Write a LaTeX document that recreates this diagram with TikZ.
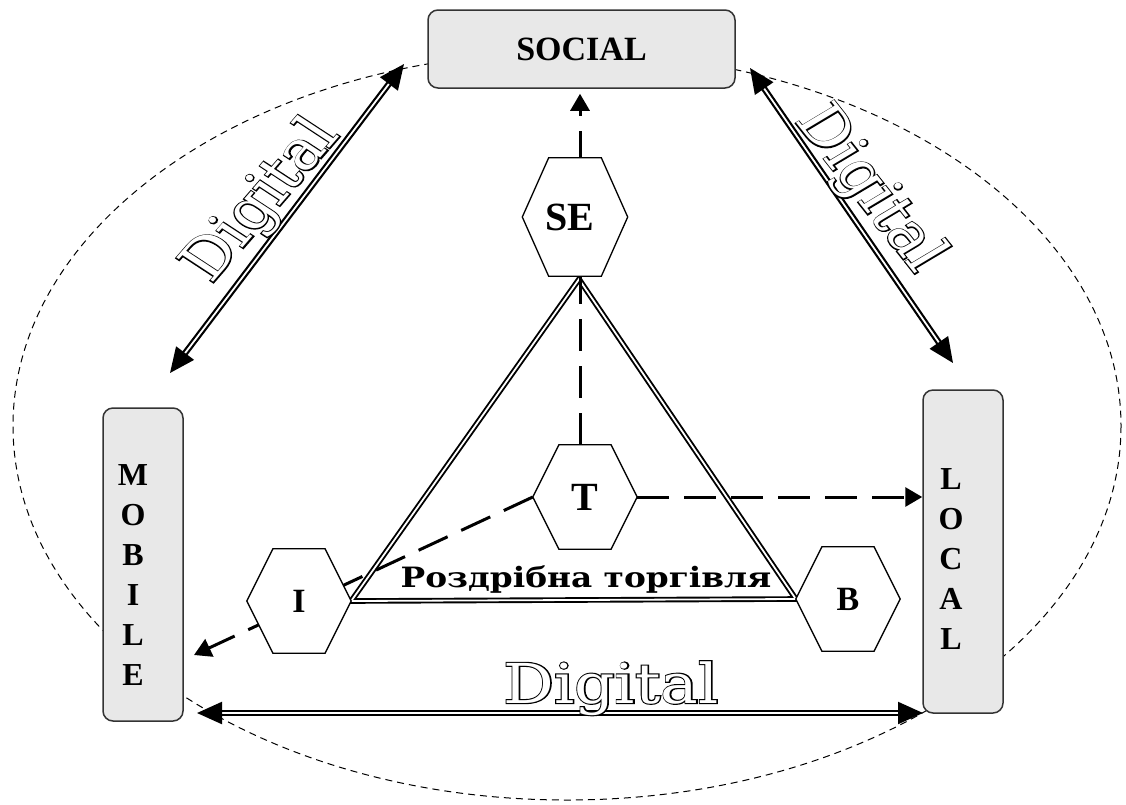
\documentclass[tikz,border=0pt]{standalone}
\usepackage{fontspec}
\setmainfont{Liberation Serif}
\newfontfamily\dejavuserif{DejaVu Serif}
\newfontfamily\digbold[FakeBold=4]{DejaVu Serif}
\usetikzlibrary{arrows.meta,calc}
\pgfdeclarelayer{back}
\pgfdeclarelayer{hex}
\pgfsetlayers{back,hex,main}
\definecolor{boxgray}{HTML}{E8E8E8}
\definecolor{boxedge}{HTML}{333333}
\newcommand\hollow[1]{\rlap{\color{black}\digbold #1}\textcolor{white}{#1}}
\tikzset{
  box/.style={draw=boxedge, line width=1.5pt, fill=boxgray, rounded corners=10pt, inner sep=0pt, font=\fontsize{32}{40}\selectfont\bfseries},
  hexnode/.style={inner sep=0pt, minimum width=104pt, minimum height=104pt, font=\fontsize{34}{40}\selectfont\bfseries},
  bighex/.style={hexnode, font=\fontsize{40}{44}\selectfont\bfseries},
  hexline/.style={draw=black, line width=1.3pt, fill=white, line join=miter},
  thickdash/.style={line width=3pt, dash pattern=on 32pt off 15pt, -{Triangle[length=17pt,width=19pt]}},
  dblarrow/.style={line width=2.2pt, double=white, double distance=1.8pt, {Triangle[length=25pt,width=22pt]}-{Triangle[length=25pt,width=22pt]}},
  digit/.style={font=\dejavuserif\fontsize{55}{60}\selectfont, xscale=1.15, anchor=base, inner sep=0pt},
  ellipseline/.style={line width=1pt, dash pattern=on 7pt off 5pt},
  tri/.style={line width=1.9pt, double=white, double distance=1.8pt, line join=miter},
  retail/.style={font=\dejavuserif\bfseries\fontsize{28}{30}\selectfont, anchor=base, xscale=1.17, inner sep=0pt},
}
\newcommand\hexof[1]{%
  \begin{pgfonlayer}{hex}
    \draw[hexline] (#1.west) -- ($(#1.north west)!0.25!(#1.north east)$) -- ($(#1.north west)!0.75!(#1.north east)$) -- (#1.east) -- ($(#1.south west)!0.75!(#1.south east)$) -- ($(#1.south west)!0.25!(#1.south east)$) -- cycle;
  \end{pgfonlayer}}
\begin{document}
\begin{tikzpicture}[x=1pt,y=-1pt]
\useasboundingbox (0,0) rectangle (1126,804);

% dashed ellipse
\begin{pgfonlayer}{back}
\draw[ellipseline] (567,426) ellipse [x radius=554, y radius=374];
\end{pgfonlayer}

% boxes
\node[box, minimum width=307pt, minimum height=78pt, font=\fontsize{34}{40}\selectfont\bfseries] (SOCIAL) at (581.5,49) {SOCIAL};
\node[box, minimum width=80pt, minimum height=313pt] (MOBILE) at (143,564.5)
  {\raisebox{-19.5pt}[0pt][0pt]{\begin{tabular}{@{}c@{}}M\\O\\B\\I\\L\\E\end{tabular}}\hspace*{20pt}};
\node[box, minimum width=80pt, minimum height=323pt] (LOCAL) at (963,551.5)
  {\raisebox{-16pt}[0pt][0pt]{\begin{tabular}{@{}c@{}}L\\O\\C\\A\\L\end{tabular}}\hspace*{24pt}};

% hexagons
\node[bighex, minimum width=105pt, minimum height=118pt] (SE) at (575,217) {SE\hspace*{10pt}};
\node[bighex] (T) at (585,497) {T};
\node[hexnode] (I) at (299,601) {I};
\node[hexnode] (B) at (848,599) {B};
\hexof{SE}\hexof{T}\hexof{I}\hexof{B}

\coordinate (apex) at ($(SE.south)+(4,3)$);
\coordinate (Ttop) at ([xshift=-5pt]T.north);
\coordinate (mtip) at (194,655);
\coordinate (lT) at (404,64);
\coordinate (lB) at (170,373);
\coordinate (rT) at (750,68);
\coordinate (rB) at (953,363);
\coordinate (bL) at (197,713);
\coordinate (bR) at (923,713);

\begin{pgfonlayer}{back}
\draw[tri] (apex) -- (I.east) -- (B.west) -- cycle;
\draw[thickdash, shorten >=5pt] (Ttop) -- (Ttop |- SOCIAL.south);
\draw[thickdash] (T.east) -- (T.east -| LOCAL.west);
\draw[thickdash] (T.west) -- (mtip);
\draw[dblarrow] (lB) -- (lT);
\draw[dblarrow] (rT) -- (rB);
\draw[dblarrow] (bL) -- (bR);
\end{pgfonlayer}

% texts
\node[retail] (RT) at (586,587) {Роздрібна торгівля};
\node[digit] (dgB) at (611,703) {\hollow{Digital}};
\node[digit, rotate=53] (dgL) at (276,210) {\hollow{Digital}};
\node[digit, rotate=-55.5] (dgR) at (855,198) {\hollow{Digital}};
\end{tikzpicture}
\end{document}
